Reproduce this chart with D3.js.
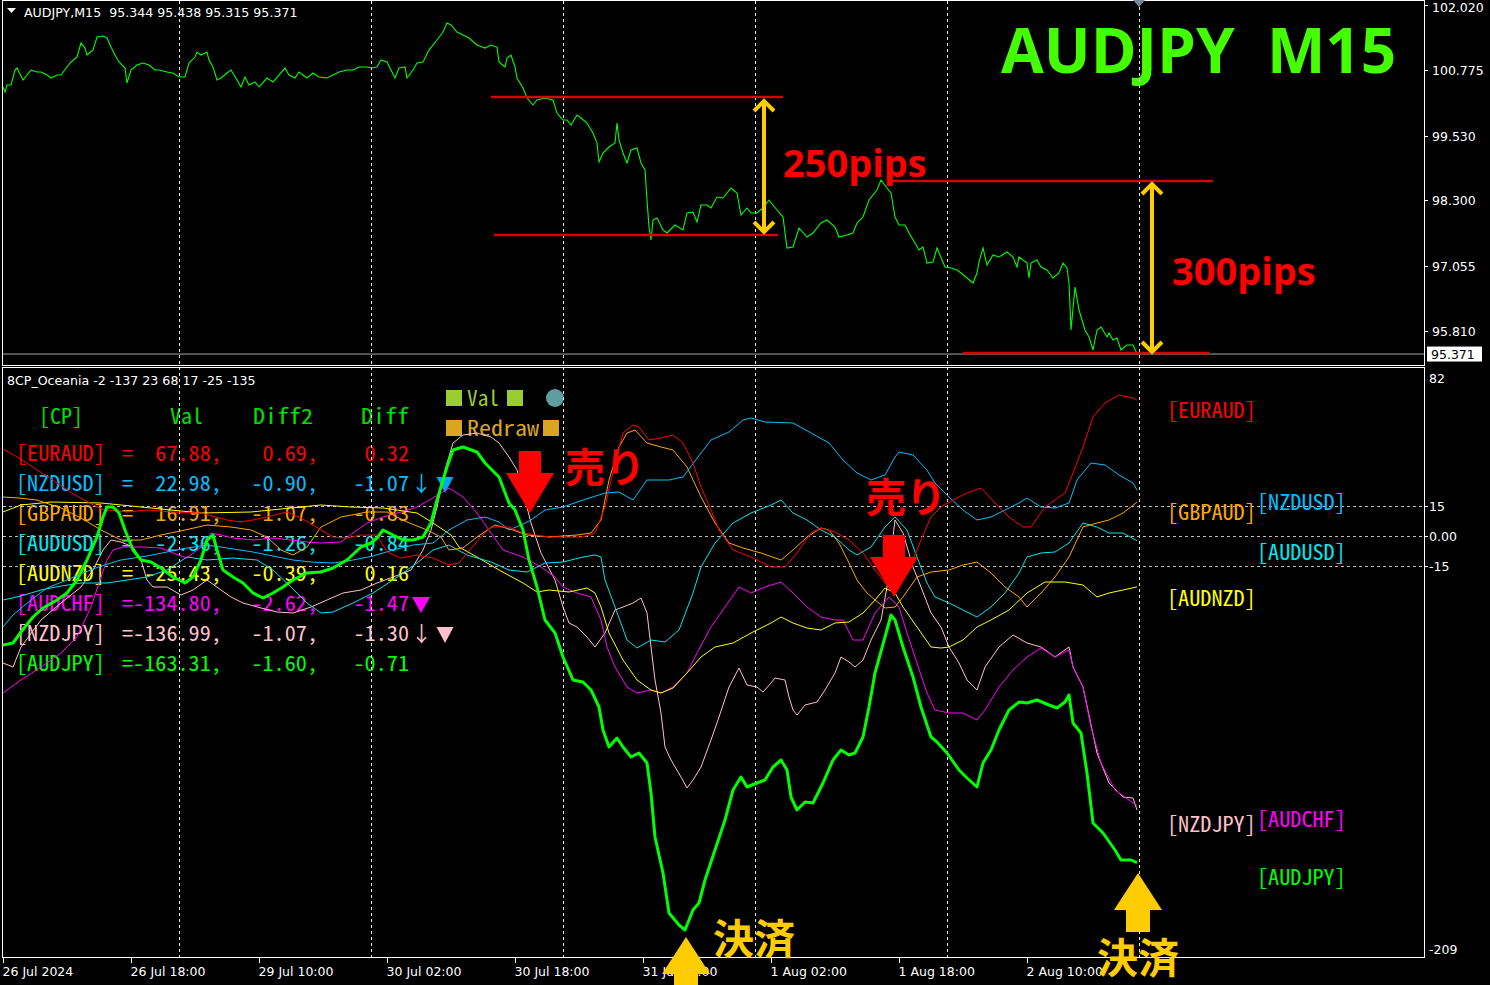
<!DOCTYPE html>
<html><head><meta charset="utf-8">
<script src="https://cdn.jsdelivr.net/npm/d3@7/dist/d3.min.js"></script>
<style>html,body{margin:0;padding:0;background:#000;overflow:hidden}svg{display:block}</style>
</head><body>
<svg id="chart"></svg>
<script>
// ---------------- DATA ----------------
const priceBars = [0,1,2,4,6,7,8,10,12,14,17,19,22,24,27,29,32,34,37,39,41,42,45,47,50,52,54,56,58,61,62,64,67,70,73,76,78,82,85,88,91,93,96,97,99,102,103,105,107,109,112,114,117,119,121,123,126,128,132,135,138,141,143,146,148,152,155,158,162,165,168,172,175,178,182,184,187,189,192,194,196,198,201,202,205,207,210,213,217,220,222,224,227,230,233,237,241,244,247,248,251,252,254,256,257,260,262,265,267,271,275,277,280,282,284,287,289,292,295,297,298,300,303,306,307,308,310,312,314,317,319,321,322,323,324,325,327,330,332,336,340,342,345,347,349,352,354,357,360,364,367,369,372,374,377,380,383,387,390,392,395,398,402,405,409,412,416,418,422,425,427,430,433,437,439,442,444,446,448,451,453,456,458,460,462,465,467,471,474,477,479,482,485,487,488,490,492,495,498,502,505,507,508,512,513,514,517,519,522,525,528,530,532,533,534,536,538,541,543,545,547,549,552,553,555,557,559,562,565,567];
const priceClose = [100.458,100.362,100.496,100.496,100.781,100.819,100.743,100.591,100.686,100.781,100.743,100.743,100.686,100.629,100.686,100.686,100.839,100.934,101.029,101.296,101.200,101.067,101.162,101.410,101.429,101.391,101.219,101.067,100.934,100.819,100.534,100.781,100.877,100.915,100.877,100.781,100.781,100.743,100.724,100.648,100.648,100.915,101.029,101.124,101.067,101.124,100.972,100.839,100.591,100.629,100.724,100.781,100.591,100.458,100.648,100.496,100.553,100.458,100.629,100.553,100.686,100.819,100.686,100.629,100.743,100.629,100.724,100.648,100.629,100.686,100.743,100.781,100.781,100.839,100.839,100.819,100.839,100.972,100.934,100.781,100.629,100.819,100.839,100.629,100.781,100.915,100.934,101.162,101.353,101.505,101.677,101.639,101.505,101.448,101.391,101.258,101.200,101.258,101.219,100.934,100.839,101.010,101.067,100.839,100.629,100.439,100.248,100.115,100.210,100.248,100.210,99.962,99.829,99.829,99.734,99.924,99.867,99.772,99.581,99.391,99.029,99.200,99.315,99.391,99.772,99.448,99.200,99.010,99.258,99.296,99.010,98.877,98.305,97.791,97.543,97.924,97.962,97.734,97.677,97.829,97.734,98.058,98.077,97.886,98.210,98.210,98.153,98.362,98.343,98.534,98.439,98.020,98.153,98.058,98.058,98.153,98.305,98.115,97.981,97.391,97.410,97.772,97.600,97.677,97.867,97.924,97.791,97.600,97.639,97.677,97.867,97.981,98.305,98.496,98.686,98.534,98.439,97.981,97.829,97.829,97.677,97.486,97.353,97.410,97.105,97.124,97.391,97.029,97.010,96.972,96.915,96.820,96.724,96.915,97.124,97.391,97.067,97.258,97.220,97.315,97.220,97.029,97.220,97.105,96.820,97.105,97.162,97.029,96.972,96.820,96.915,97.105,97.010,96.724,95.829,96.648,96.210,95.829,95.696,95.448,95.829,95.886,95.696,95.772,95.639,95.677,95.448,95.543,95.543,95.371];
const priceTicks = [102.020,100.775,99.530,98.300,97.055,95.810];
const bidPrice = 95.371;
const headerOHLC = "AUDJPY,M15  95.344 95.438 95.315 95.371";

const eurBars = [0,8,21,36,49,52,62,72,85,99,112,119,125,132,142,149,159,165,172,179,187,192,199,207,215,223,228,232,239,244,253,260,273,290,296,301,306,310,315,318,323,329,335,340,345,349,354,358,365,374,384,391,397,404,409,416,423,430,436,441,446,450,455,459,464,469,475,482,489,496,503,510,514,521,531,535,540,545,551,558,565,567];
const eurVals = [43.5,39,30.5,20.5,13.5,13,12,13,12,11.5,8,7,8,9.5,12,9,3,-0.5,-1,0.5,0.5,-8,-11,-9.5,-11,-14.5,-13.5,-8.5,-0.5,4.5,4.5,1.5,-0.5,-0.5,1.5,14.5,36.5,51.5,55.5,54.5,48,49,50.5,46.5,36.5,24.5,13,3,-7,-10.5,-15.5,-15.5,-8.5,1.5,4,2,-2,-8.5,-17,-23.5,-28.5,-22,-12,-2,9.5,14.5,18,21.5,24,16.5,9.5,4.5,4.5,14.5,21.5,31.5,44.5,59.5,66.5,70.5,69,67.88];
const nzdusdBars = [0,5,14,22,32,40,49,59,72,82,92,102,112,125,135,145,154,165,175,185,195,205,215,223,232,241,248,253,259,264,271,280,290,301,308,315,322,333,340,349,354,363,370,374,381,395,404,413,420,427,434,441,446,448,455,462,466,473,480,487,494,501,508,512,519,526,533,537,544,551,558,565,567];
const nzdusdVals = [-45.5,-39.5,-32,-26,-22,-18.5,-15,-12,-10,-8,-6,-4.5,-6,-8,-10,-12,-13,-13.5,-12,-10,-7,-4.5,-3.5,3,8,9.5,7,3,5.5,8,13,14.5,18,21.5,22,18,28,28,29.5,41.5,48,52,58,59,57,56.5,51.5,46.5,38,31.5,28,30.5,39.5,42,40.5,33,26.5,19.5,13,8,9.5,13,16.5,19,14.5,14,16.5,28,36.5,35.5,30.5,26.5,22.98];
const gbpBars = [0,8,17,29,39,49,59,69,79,91,102,114,124,132,139,145,152,159,169,182,192,202,212,219,223,230,237,246,255,262,273,287,294,299,303,308,312,316,322,329,335,342,349,356,363,370,379,389,395,402,409,413,418,423,427,432,436,441,446,450,457,464,473,480,487,494,501,508,512,519,526,533,540,547,553,560,567];
const gbpVals = [19.5,19,18,14,9,3,-2,-2,0.5,3,5.5,4.5,3,-0.5,-7,-9.5,-5.5,4.5,9.5,12,12,7,3,-0.5,-7,-6,-0.5,5.5,3,0.5,-0.5,0.5,1.5,8,28,44.5,51.5,53,46.5,44.5,43,34.5,19.5,6.5,-3.5,-6,-8.5,-12,-7,-0.5,4,3,-3.5,-13.5,-22,-28.5,-32,-36,-35.5,-30.5,-20.5,-18,-17,-14.5,-13,-18.5,-25.5,-30.5,-35.5,-28.5,-20.5,-10.5,4.5,6.5,8,11.5,16.91];
const audusdBars = [0,9,19,29,39,52,62,72,82,92,102,115,127,135,144,152,159,165,175,185,195,207,215,223,232,244,253,262,271,280,290,296,299,301,306,312,317,324,331,338,345,349,356,365,374,384,389,395,402,409,416,423,427,434,441,446,452,457,462,466,473,480,487,494,501,508,512,519,526,533,540,547,553,560,567];
const audusdVals = [-32,-30,-27,-25,-23.5,-23.5,-22,-20.5,-17,-10.5,-12,-11,-12,-17,-25.5,-33.5,-38.5,-38,-33.5,-28.5,-22,-13.5,-7,-4.5,-9.5,-13,-17,-18,-13.5,-13,-10.5,-9.5,-10.5,-22,-35.5,-52,-56,-52,-53,-47,-28.5,-15.5,-3.5,6.5,11.5,15.5,18,11.5,8,3,-0.5,-7,-9.5,-5.5,4.5,9.5,3,-10.5,-23.5,-30.5,-33.5,-37,-40.5,-35.5,-28.5,-18.5,-10.5,-8.5,-8,-3.5,6.5,4.5,1.5,1.5,-2.36];
const audnzdBars = [0,9,24,49,74,99,124,149,159,174,190,207,215,224,228,237,248,260,267,273,283,292,296,299,303,310,317,324,329,335,342,349,356,365,374,384,389,395,402,409,416,423,430,436,441,446,450,457,464,469,473,480,487,494,503,512,521,531,540,547,553,560,567];
const audnzdVals = [12,15.5,17,16.5,14,11.5,12,14.5,15.5,14.5,14,11.5,6.5,0.5,-5.5,-10.5,-17,-23.5,-28,-27,-28,-26,-28.5,-35.5,-48.5,-62,-72,-77,-78.5,-76,-68.5,-60.5,-55.5,-53.5,-48.5,-43.5,-40.5,-43.5,-46,-47,-43.5,-43,-38.5,-32,-26,-28.5,-35.5,-45.5,-55.5,-56,-55.5,-52,-45.5,-42,-37,-28.5,-23,-23,-24.5,-30.5,-28.5,-27,-25.43];
const audchfBars = [0,9,19,29,37,44,49,52,55,60,69,79,85,92,99,104,109,115,125,135,144,152,159,169,175,182,190,199,207,215,223,230,237,244,250,260,269,276,280,287,294,299,302,306,312,317,324,329,335,342,347,354,361,368,374,381,389,395,402,409,416,420,425,430,436,443,448,452,457,462,466,473,480,487,491,498,505,512,519,526,533,535,540,544,549,556,563,567];
const audchfVals = [-78.5,-72,-65.5,-58.5,-50.5,-35.5,-20.5,-12,-7,-5.5,-5.5,-6,-8.5,-11,-5.5,1.5,0.5,-1,-2,-1,-2,-3,-3.5,-3,1.5,6.5,9.5,12,14.5,19,24,19.5,11.5,1.5,-7,-10.5,-15.5,-20.5,-25.5,-28.5,-30.5,-42,-55.5,-65.5,-75.5,-78.5,-77,-78.5,-75.5,-68.5,-58.5,-45.5,-35.5,-25.5,-28.5,-25.5,-23,-28.5,-35.5,-40.5,-42,-42,-52,-52,-38.5,-30.5,-35.5,-48.5,-63.5,-78.5,-87,-88.5,-88.5,-92,-87,-75.5,-67,-60.5,-56,-60.5,-57,-65.5,-75.5,-95.5,-113.5,-127,-132,-134.8];
const nzdjpyBars = [0,5,9,19,29,39,45,50,54,59,65,69,72,75,82,89,95,102,109,114,120,129,137,145,154,162,170,179,187,195,204,210,214,217,221,225,230,237,244,248,253,257,262,264,269,276,280,283,287,292,296,301,306,310,315,319,322,324,326,329,331,334,339,342,345,349,354,358,363,368,372,377,380,384,386,391,393,395,397,401,407,411,416,419,423,426,430,434,439,442,444,446,450,455,459,464,469,473,478,482,487,491,498,505,512,519,526,533,535,540,547,553,560,565,567];
const nzdjpyVals = [-63.5,-65.5,-55.5,-42,-33.5,-25.5,-17,-7,-2,-3,-5.5,-12,-22,-25.5,-25.5,-29.5,-27,-22,-27,-30.5,-33.5,-36,-38,-38.5,-35.5,-32,-28.5,-27,-23.5,-20.5,-17,-7,3,14.5,33,46.5,50.5,51.5,49.5,46.5,39.5,33,14.5,6.5,-8.5,-22,-35.5,-43.5,-45.5,-50.5,-55.5,-48.5,-37,-35.5,-33.5,-31,-38.5,-55.5,-72,-88.5,-105.5,-112,-120.5,-126,-122,-115.5,-102,-90.5,-75.5,-66,-74.5,-75.5,-78,-73.5,-71,-72,-80.5,-87,-89.5,-84.5,-83,-77,-68.5,-60.5,-63,-65.5,-62,-52,-42,-25.5,-8.5,8,1.5,-15.5,-25.5,-38.5,-45.5,-55.5,-63.5,-72,-77,-65.5,-55.5,-49.5,-53.5,-55.5,-60.5,-55.5,-65.5,-75.5,-108.5,-123.5,-130.5,-131,-136.99];
const audjpyBars = [0,5,9,15,20,27,32,37,42,47,50,52,55,58,61,65,69,74,79,85,91,95,99,102,105,107,110,115,120,125,130,135,140,145,152,159,165,172,179,184,187,190,195,200,205,210,214,217,222,225,230,237,241,248,253,256,260,263,267,271,276,280,285,290,294,298,300,303,307,310,314,318,322,324,326,330,333,338,341,345,348,351,356,361,365,369,372,377,381,385,389,392,394,397,401,405,410,415,419,423,426,430,433,436,441,444,446,450,455,459,464,467,472,478,482,487,490,494,498,503,508,512,517,523,527,531,533,535,539,542,545,550,556,559,564,567];
const audjpyVals = [-54.5,-53.5,-48,-40.5,-36,-32,-28.5,-22,-12,-0.5,9.5,14.5,14.5,11.5,3,-7,-12,-13,-16,-20.5,-23.5,-20.5,-12,-2,0.5,-7,-17,-20.5,-23.5,-28.5,-31,-28.5,-25.5,-22,-18.5,-18,-16,-12,-5.5,-3.5,-1,3,0.5,-2,-2,-0.5,6.5,18,34.5,43,44.5,42,36.5,29.5,16.5,13,3,-12,-25.5,-42,-48.5,-60.5,-72,-73,-77,-85.5,-97,-105.5,-101,-105.5,-110.5,-108.5,-113.5,-128.5,-150.5,-168.5,-188.5,-194.5,-197,-187,-183.5,-172,-157,-142,-127,-120.5,-125.5,-123.5,-122,-115.5,-112,-117,-130.5,-137,-133,-133.5,-123.5,-112,-107,-109.5,-108.5,-100.5,-85.5,-68.5,-50.5,-39.5,-42,-55.5,-70.5,-85.5,-100.5,-103,-108.5,-117,-121,-125.5,-113.5,-107,-97,-87,-83,-83.5,-82,-84.5,-86,-83,-79.5,-93.5,-98.5,-118.5,-143.5,-148.5,-157,-162,-162,-163.31];

const pairNames = ["EURAUD","NZDUSD","GBPAUD","AUDUSD","AUDNZD","AUDCHF","NZDJPY","AUDJPY"];
const tableVal   = [67.88, 22.98, 16.91, -2.36, -25.43, -134.80, -136.99, -163.31];
const tableDiff2 = [0.69, -0.90, -1.07, -1.26, -0.39, -2.62, -1.07, -1.60];
const tableDiff  = [0.32, -1.07, -0.83, -0.84, 0.16, -1.47, -1.30, -0.71];
const tableHeader = ["[CP]","Val","Diff2","Diff"];
const indicatorTitle = "8CP_Oceania -2 -137 23 68 17 -25 -135";
const indicatorTicks = [15, 0, -15];
const indicatorTickLabels = ["15","0.00","-15"];
const indicatorRange = [-209, 82];

const xTickBars = [0,64,128,192,256,320,384,448,512];
const xTickLabels = ["26 Jul 2024","26 Jul 18:00","29 Jul 10:00","30 Jul 02:00","30 Jul 18:00","31 Jul 10:00","1 Aug 02:00","1 Aug 18:00","2 Aug 10:00"];
const separatorBars = [88,184,280,376,472,568];

// annotations
const levelStart = [244, 245.5, 442.5, 480];
const levelEnd   = [390, 387.5, 605, 603.5];
const levelPrice = [100.267, 97.639, 98.667, 95.391];
const rangeBar  = [380.5, 574.5];
const rangeHigh = [100.21, 98.629];
const rangeLow  = [97.677, 95.391];
const pipText  = ["250pips","300pips"];
const pipBar   = [390, 584.5];
const pipPrice = [98.743, 96.686];
const sellBar = [263.5, 445.5];
const sellTip = [11.5, -30.5];
const sellTextBar = [281, 431.5];
const sellTextVal = [27, 12];
const exitBar = [341.5, 567.5];
const exitTip = [-200.5, -168.5];
const exitTextBar = [355, 547];
const exitTextVal = [-209, -218.5];

// ---------------- STYLE / LAYOUT ----------------
const colors = {EURAUD:"#ff0000",NZDUSD:"#00bfff",GBPAUD:"#ffa500",AUDUSD:"#00e5ee",AUDNZD:"#ffff00",AUDCHF:"#ff00ff",NZDJPY:"#ffc0cb",AUDJPY:"#00ff00"};
const seriesDefs = [
  ["NZDJPY", nzdjpyBars, nzdjpyVals],
  ["AUDCHF", audchfBars, audchfVals],
  ["AUDNZD", audnzdBars, audnzdVals],
  ["AUDUSD", audusdBars, audusdVals],
  ["GBPAUD", gbpBars, gbpVals],
  ["NZDUSD", nzdusdBars, nzdusdVals],
  ["EURAUD", eurBars, eurVals],
  ["AUDJPY", audjpyBars, audjpyVals]
];
const rightLabelPos = {EURAUD:[1167,418],GBPAUD:[1167,520],NZDUSD:[1257,510],AUDUSD:[1257,560],AUDNZD:[1167,606],NZDJPY:[1167,832],AUDCHF:[1257,827],AUDJPY:[1257,885]};

const W=1490,H=985, L=3, R=1424, topT=0, topB=365, lowT=367, lowB=957;
const monoF = "'Noto Sans Mono CJK JP','DejaVu Sans Mono',monospace";
const sansF = "'DejaVu Sans',sans-serif";
const cjkF = "'Noto Sans CJK JP',sans-serif";
const CW = 11.1;

const svg = d3.select("#chart").attr("width",W).attr("height",H);
svg.append("rect").attr("width",W).attr("height",H).attr("fill","#000");

const xS  = d3.scaleLinear().domain([0,710.5]).range([L,R]);
const yP = d3.scaleLinear().domain([95.81,102.02]).range([331,5]);
const yI = d3.scaleLinear().domain(indicatorRange).range([954,372]);

const defs = svg.append("defs");
defs.append("clipPath").attr("id","clipTop").append("rect").attr("x",L).attr("y",topT).attr("width",R-L).attr("height",topB-topT);
defs.append("clipPath").attr("id","clipLow").append("rect").attr("x",L).attr("y",lowT).attr("width",R-L).attr("height",lowB-lowT);

function monoText(g,str,px,py,color,opts){
  opts=opts||{};
  const t=g.append("text").attr("x",px).attr("y",py).attr("fill",color)
    .attr("font-family",monoF).attr("font-size",opts.size||21)
    .attr("text-anchor",opts.anchor||"start").style("white-space","pre").text(str);
  if(opts.len!==false) t.attr("textLength",opts.len||str.length*CW).attr("lengthAdjust","spacingAndGlyphs");
  return t;
}

// ---------- text layer under the grid ----------
const txtG = svg.append("g");
txtG.append("path").attr("d","M7,8 L16,8 L11.5,13 Z").attr("fill","#fff");
txtG.append("text").attr("x",24).attr("y",17).attr("fill","#fff").attr("font-family",sansF).attr("font-size",12.6)
  .style("white-space","pre").text(headerOHLC);
txtG.append("text").attr("x",1001).attr("y",73).attr("fill","#44ff00").attr("font-family","'Open Sans',sans-serif")
  .attr("font-weight",700).attr("font-size",62).style("white-space","pre").text("AUDJPY  M15");
txtG.append("text").attr("x",7).attr("y",385).attr("fill","#fff").attr("font-family",sansF).attr("font-size",12.6)
  .text(indicatorTitle);

const hdrX=[39,170,253,361], hdrLen=[44,33,60,48];
tableHeader.forEach((h,i)=>monoText(txtG,h,hdrX[i],424,"#00e000",{len:hdrLen[i]}));
pairNames.forEach((n,k)=>{
  const yy=461+30*k, c=colors[n];
  monoText(txtG,"["+n+"]",16,yy,c);
  const vs="="+tableVal[k].toFixed(2).padStart(7," ")+",";
  monoText(txtG,vs,122,yy,c);
  monoText(txtG,tableDiff2[k].toFixed(2)+",",318,yy,c,{anchor:"end"});
  monoText(txtG,tableDiff[k].toFixed(2),409,yy,c,{anchor:"end"});
});
[1,6].forEach(k=>monoText(txtG,"↓",411,461+30*k,colors[pairNames[k]],{len:false}));
const tri=(cx,cy,w,h)=>`M${cx-w/2},${cy-h/2} L${cx+w/2},${cy-h/2} L${cx},${cy+h/2} Z`;
txtG.append("path").attr("d",tri(445,485,17,16)).attr("fill","#00a8f0");
txtG.append("path").attr("d",tri(421,605,18,16)).attr("fill","#ff00ff");
txtG.append("path").attr("d",tri(445,635,17,16)).attr("fill","#ffc0cb");
txtG.append("rect").attr("x",446).attr("y",390).attr("width",16).attr("height",16).attr("fill","#9acd32");
monoText(txtG,"Val",467,406,"#9acd32",{len:32});
txtG.append("rect").attr("x",507).attr("y",390).attr("width",16).attr("height",16).attr("fill","#9acd32");
txtG.append("circle").attr("cx",555).attr("cy",398).attr("r",9).attr("fill","#5f9ea0");
txtG.append("rect").attr("x",446).attr("y",420).attr("width",16).attr("height",16).attr("fill","#daa520");
monoText(txtG,"Redraw",467,436,"#daa520",{len:72});
txtG.append("rect").attr("x",543).attr("y",420).attr("width",16).attr("height",16).attr("fill","#daa520");

// ---------- grid ----------
const gridG = svg.append("g");
separatorBars.forEach(b=>{
  const xx=Math.round(xS(b))+0.5;
  gridG.append("line").attr("x1",xx).attr("x2",xx).attr("y1",1).attr("y2",lowB)
    .attr("stroke","#e8e8e8").attr("stroke-width",1).attr("stroke-dasharray","3,3");
});
indicatorTicks.forEach(v=>{
  const yy=Math.round(yI(v))+0.5;
  gridG.append("line").attr("x1",L).attr("x2",R).attr("y1",yy).attr("y2",yy)
    .attr("stroke","#bdbdbd").attr("stroke-width",1).attr("stroke-dasharray","3,3");
});

// ---------- price window ----------
const gTop = svg.append("g").attr("clip-path","url(#clipTop)");
gTop.append("line").attr("x1",L).attr("x2",R).attr("y1",yP(bidPrice)).attr("y2",yP(bidPrice)).attr("stroke","#a8a8a8").attr("stroke-width",1);
const priceData = priceBars.map((b,i)=>[b,priceClose[i]]);
gTop.append("path").datum(priceData).attr("fill","none").attr("stroke","#00ff00").attr("stroke-width",1.1)
  .attr("d",d3.line().x(d=>xS(d[0])).y(d=>yP(d[1])));
levelPrice.forEach((p,i)=>{
  gTop.append("line").attr("x1",xS(levelStart[i])).attr("x2",xS(levelEnd[i])).attr("y1",yP(p)).attr("y2",yP(p))
    .attr("stroke","#d80000").attr("stroke-width",2.5);
});
rangeBar.forEach((b,i)=>{
  const xx=xS(b), y1=yP(rangeHigh[i]), y2=yP(rangeLow[i]);
  const g=gTop.append("g").attr("stroke","#ffcc00").attr("stroke-width",4).attr("fill","none");
  g.append("line").attr("x1",xx).attr("x2",xx).attr("y1",y1+2).attr("y2",y2-2);
  g.append("path").attr("d",`M${xx-10},${y1+11} L${xx},${y1+1} L${xx+10},${y1+11}`);
  g.append("path").attr("d",`M${xx-10},${y2-11} L${xx},${y2-1} L${xx+10},${y2-11}`);
});
pipText.forEach((t,i)=>{
  gTop.append("text").attr("x",xS(pipBar[i])).attr("y",yP(pipPrice[i])).attr("fill","#ff0000")
    .attr("font-family","'Open Sans',sans-serif").attr("font-weight",700).attr("font-size",38).text(t);
});

// ---------- indicator window ----------
const gLow = svg.append("g").attr("clip-path","url(#clipLow)");
seriesDefs.forEach(([name,bars,vals])=>{
  const d=bars.map((b,i)=>[b,vals[i]]);
  gLow.append("path").datum(d).attr("fill","none").attr("stroke",colors[name])
    .attr("stroke-width",name==="AUDJPY"?3:1).attr("stroke-linejoin","round")
    .attr("d",d3.line().x(p=>xS(p[0])).y(p=>yI(p[1])));
});
pairNames.forEach(n=>{
  const p=rightLabelPos[n];
  monoText(svg,"["+n+"]",p[0],p[1],colors[n],{size:21});
});

// ---------- frames & axes ----------
const axG = svg.append("g");
axG.append("rect").attr("x",L-0.5).attr("y",topT+0.5).attr("width",R-L+1).attr("height",topB-topT).attr("fill","none").attr("stroke","#fff");
axG.append("rect").attr("x",L-0.5).attr("y",lowT+0.5).attr("width",R-L+1).attr("height",lowB-lowT).attr("fill","none").attr("stroke","#fff");
priceTicks.forEach(p=>{
  const yy=Math.round(yP(p))+0.5;
  axG.append("line").attr("x1",R).attr("x2",R+4).attr("y1",yy).attr("y2",yy).attr("stroke","#fff");
  axG.append("text").attr("x",1432).attr("y",Math.max(yy,7)).attr("dy","0.36em").attr("fill","#fff").attr("font-family",sansF).attr("font-size",12.5).text(p.toFixed(3));
});
axG.append("rect").attr("x",1427).attr("y",yP(bidPrice)-7.5).attr("width",55).attr("height",15).attr("fill","#fff");
axG.append("text").attr("x",1431).attr("y",yP(bidPrice)).attr("dy","0.36em").attr("fill","#000").attr("font-family",sansF).attr("font-size",12.5).text(bidPrice.toFixed(3));
indicatorTicks.forEach((v,i)=>{
  const yy=Math.round(yI(v))+0.5;
  axG.append("line").attr("x1",R).attr("x2",R+4).attr("y1",yy).attr("y2",yy).attr("stroke","#fff");
  axG.append("text").attr("x",1429).attr("y",yy).attr("dy","0.36em").attr("fill","#fff").attr("font-family",sansF).attr("font-size",12.5).text(indicatorTickLabels[i]);
});
axG.append("text").attr("x",1429).attr("y",yI(indicatorRange[1])+11).attr("fill","#fff").attr("font-family",sansF).attr("font-size",12.5).text(String(indicatorRange[1]));
axG.append("text").attr("x",1429).attr("y",yI(indicatorRange[0])).attr("fill","#fff").attr("font-family",sansF).attr("font-size",12.5).text(String(indicatorRange[0]));
xTickBars.forEach((b,i)=>{
  const xx=Math.round(xS(b))+0.5;
  axG.append("line").attr("x1",xx).attr("x2",xx).attr("y1",lowB).attr("y2",lowB+6).attr("stroke","#fff");
  axG.append("text").attr("x",xx-1).attr("y",976).attr("fill","#fff").attr("font-family",sansF).attr("font-size",12.5).text(xTickLabels[i]);
});
const sx=xS(separatorBars[separatorBars.length-1]);
axG.append("path").attr("d",`M${sx-6},0 L${sx+6},0 L${sx},7 Z`).attr("fill","#778899");

// ---------- trade annotations ----------
const annG = svg.append("g");
sellBar.forEach((b,i)=>{
  const tx=xS(b), ty=yI(sellTip[i]);
  annG.append("path").attr("fill","#ff0000")
    .attr("d",`M${tx-11},${ty-62} L${tx+11},${ty-62} L${tx+11},${ty-40} L${tx+24},${ty-40} L${tx},${ty} L${tx-24},${ty-40} L${tx-11},${ty-40} Z`);
  annG.append("text").attr("x",xS(sellTextBar[i])).attr("y",yI(sellTextVal[i])).attr("fill","#ff0000")
    .attr("font-family",cjkF).attr("font-weight",700).attr("font-size",40).text("売り");
});
exitBar.forEach((b,i)=>{
  const tx=xS(b), ty=yI(exitTip[i]);
  annG.append("path").attr("fill","#ffcc00")
    .attr("d",`M${tx},${ty} L${tx+24},${ty+37} L${tx+12},${ty+37} L${tx+12},${ty+59} L${tx-12},${ty+59} L${tx-12},${ty+37} L${tx-24},${ty+37} Z`);
  annG.append("text").attr("x",xS(exitTextBar[i])).attr("y",yI(exitTextVal[i])).attr("fill","#ffcc00")
    .attr("font-family",cjkF).attr("font-weight",700).attr("font-size",41).text("決済");
});
</script>
</body></html>
